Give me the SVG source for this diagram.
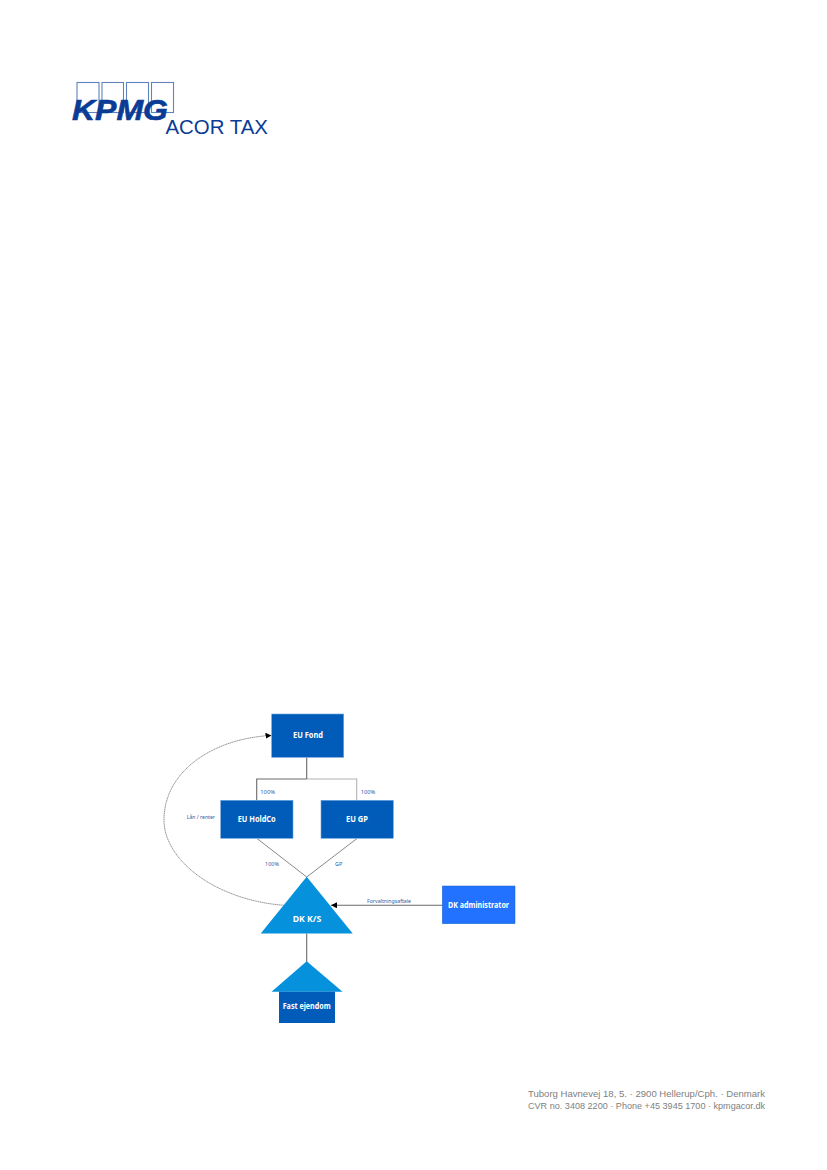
<svg xmlns="http://www.w3.org/2000/svg" width="827" height="1170" viewBox="0 0 827 1170">
<style>
text{font-family:"Liberation Sans",Arial,sans-serif}
.sq{fill:none;stroke:#5f83bd;stroke-width:1.100}
.box{stroke:#6fa3dc;stroke-width:.6}
.lbl{font-family:"Noto Sans",sans-serif;font-size:8.300px;font-weight:bold;fill:#fff}
.sm{font-family:"Noto Sans",sans-serif;font-size:5.300px;fill:#2f5aa8}
.ln{fill:none;stroke:#6a6a6a;stroke-width:1.100}
.diag{fill:none;stroke:#6a6a6a;stroke-width:.8}
.ft{font-size:9.500px;fill:#808080}
.dk{fill:#005cb8}
.lt{fill:#0591dc}
</style>
<defs>
<marker id="ah" markerUnits="userSpaceOnUse" markerWidth="7" markerHeight="7" refX="6" refY="3" orient="auto"><path d="M0 0L6 3L0 6Z" fill="#000"/></marker>
</defs>
<g id="logo">
<rect class="sq" x="77" y="82.500" width="22" height="30"/>
<rect class="sq" x="102" y="82.500" width="21.500" height="30"/>
<rect class="sq" x="126.500" y="82.500" width="22" height="30"/>
<rect class="sq" x="151.500" y="82.500" width="22" height="30"/>
<text x="72" y="119.500" font-size="29.500" font-weight="bold" font-style="italic" fill="#0a3c96" stroke="#0a3c96" stroke-width=".6" textLength="96" lengthAdjust="spacingAndGlyphs">KPMG</text>
<text x="165.500" y="133.500" font-size="19.500" fill="#0a3c96" textLength="102.500" lengthAdjust="spacingAndGlyphs">ACOR TAX</text>
</g>
<g id="connectors">
<path class="ln" d="M306.700 757.500V779M256.700 800.500V779H306.700"/>
<path class="ln" d="M306.700 779H356.700V800.500" stroke-opacity=".5"/>
<path class="diag" d="M257 838.500L306.700 877L357 838.500"/>
<path class="ln" d="M442.500 905.300H331" marker-end="url(#ah)"/>
<path class="ln" d="M306.700 933.500V962"/>
<path d="M284 905.300C215 900 164 860 164 820C164 770 215 738 271.500 735.500" fill="none" stroke="#6a6a6a" stroke-width=".7" stroke-dasharray="1.500 .4" marker-end="url(#ah)"/>
<text class="sm" x="260.300" y="793.500" textLength="14.700" lengthAdjust="spacingAndGlyphs">100%</text>
<text class="sm" x="360.700" y="793.500" textLength="14.700" lengthAdjust="spacingAndGlyphs">100%</text>
<text class="sm" x="186.700" y="819" textLength="28.300" lengthAdjust="spacingAndGlyphs">Lån / renter</text>
<text class="sm" x="265" y="865.700" textLength="14" lengthAdjust="spacingAndGlyphs">100%</text>
<text class="sm" x="335" y="865.700" textLength="7.300" lengthAdjust="spacingAndGlyphs">GP</text>
<text class="sm" x="367" y="902.500" textLength="44" lengthAdjust="spacingAndGlyphs">Forvaltningsaftale</text>
</g>
<g id="eu-fond"><rect class="dk box" x="271.700" y="714" width="72" height="43.300"/><text class="lbl" x="293" y="737.700" textLength="30" lengthAdjust="spacingAndGlyphs">EU Fond</text></g>
<g id="eu-holdco"><rect class="dk box" x="220.700" y="800.300" width="72.300" height="38"/><text class="lbl" x="237.700" y="821.700" textLength="38" lengthAdjust="spacingAndGlyphs">EU HoldCo</text></g>
<g id="eu-gp"><rect class="dk box" x="321" y="800.300" width="72.300" height="38"/><text class="lbl" x="346" y="821.700" textLength="22" lengthAdjust="spacingAndGlyphs">EU GP</text></g>
<g id="dk-ks"><path class="lt" d="M306.700 876.700L352.700 933.500H260.700Z"/><text class="lbl" x="292.700" y="922" textLength="28.500" lengthAdjust="spacingAndGlyphs">DK K/S</text></g>
<g id="dk-administrator"><rect x="442.300" y="886" width="72.700" height="37.700" fill="#2272ff" stroke="#1a5fc8" stroke-width=".5"/><text class="lbl" x="448" y="908" textLength="61" lengthAdjust="spacingAndGlyphs">DK administrator</text></g>
<g id="fast-ejendom"><path class="lt" d="M306.700 961.300L342.500 991.700H271.500Z"/><rect class="dk" x="279" y="991.700" width="56" height="31.300"/><text class="lbl" x="282.700" y="1009.300" textLength="48" lengthAdjust="spacingAndGlyphs">Fast ejendom</text></g>
<g id="footer">
<text class="ft" x="528" y="1097" textLength="237" lengthAdjust="spacingAndGlyphs">Tuborg Havnevej 18, 5. · 2900 Hellerup/Cph. · Denmark</text>
<text class="ft" x="528" y="1109" textLength="237" lengthAdjust="spacingAndGlyphs">CVR no. 3408 2200 · Phone +45 3945 1700 · kpmgacor.dk</text>
</g>
</svg>
